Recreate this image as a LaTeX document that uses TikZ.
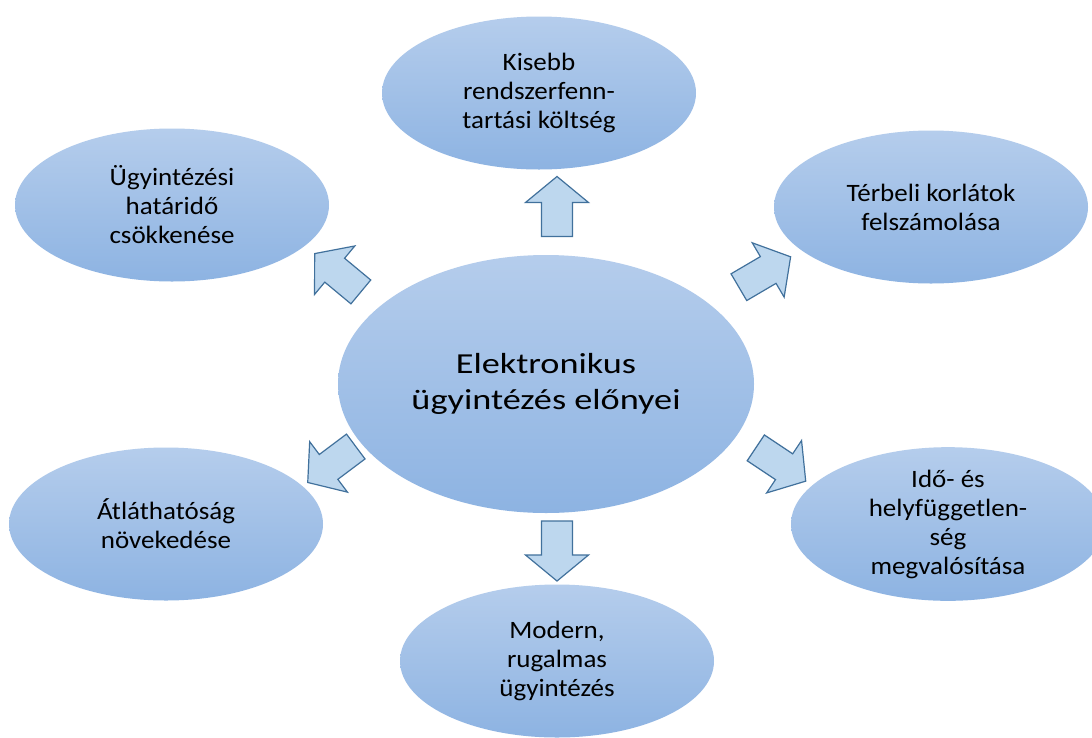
\documentclass[tikz,border=0pt]{standalone}
\usepackage{fontspec}
\setmainfont{Carlito}
\newfontfamily\outerfont{Carlito}[FakeStretch=1.08]
\newfontfamily\centerfont{Carlito}[FakeStretch=1.25]
\usetikzlibrary{shapes.geometric}

\definecolor{ellTop}{RGB}{181,205,236}
\definecolor{ellBot}{RGB}{141,179,226}
\definecolor{arrFill}{RGB}{189,215,238}
\definecolor{arrLine}{RGB}{65,113,156}

\tikzset{
  bubble/.style={ellipse, inner sep=0pt, top color=ellTop, bottom color=ellBot,
    minimum width=314pt, minimum height=153pt, align=center,
    font=\outerfont\fontsize{25}{29}\selectfont},
  hub/.style={bubble, minimum width=416pt, minimum height=258pt,
    font=\centerfont\fontsize{29}{36}\selectfont},
  barrow/.pic={
    \draw[fill=arrFill, draw=arrLine, line width=1.2pt, line join=miter]
      (-30,-15.5) -- (4,-15.5) -- (4,-31.5) -- (30,0) -- (4,31.5)
      -- (4,15.5) -- (-30,15.5) -- cycle;
  }
}

\begin{document}
\begin{tikzpicture}[x=1pt, y=-1pt]
    \clip (0,0) rectangle (1092,737);
    \fill[white] (0,0) rectangle (1092,737);
    % central bubble
    \node[hub] (center) at (546,384) {Elektronikus\\ügyintézés előnyei};
    % outer bubbles
    \node[bubble] (kisebb) at (539,93) {Kisebb\\rendszerfenn-\\tartási költség};
    \node[bubble] (ugyint) at (172,205) {Ügyintézési\\határidő\\csökkenése};
    \node[bubble] (terbeli) at (931,207) {Térbeli korlátok\\felszámolása};
    \node[bubble] (atlat) at (166,524) {Átláthatóság\\növekedése};
    \node[bubble] (ido) at (948,524) {Idő- és\\helyfüggetlen-\\ség\\megvalósítása};
    \node[bubble] (modern) at (557,661) {Modern,\\rugalmas\\ügyintézés};
    % block arrows
    \pic[rotate=90] at (557,206.5) {barrow};
    \pic[rotate=-90] at (557,551) {barrow};
    \pic[rotate=140.3] at (337.75,272.75) {barrow};
    \pic[rotate=30.4] at (764.75,272) {barrow};
    \pic[rotate=216.8] at (331.75,464.5) {barrow};
    \pic[rotate=-33.7] at (780.75,464.5) {barrow};
\end{tikzpicture}
\end{document}
